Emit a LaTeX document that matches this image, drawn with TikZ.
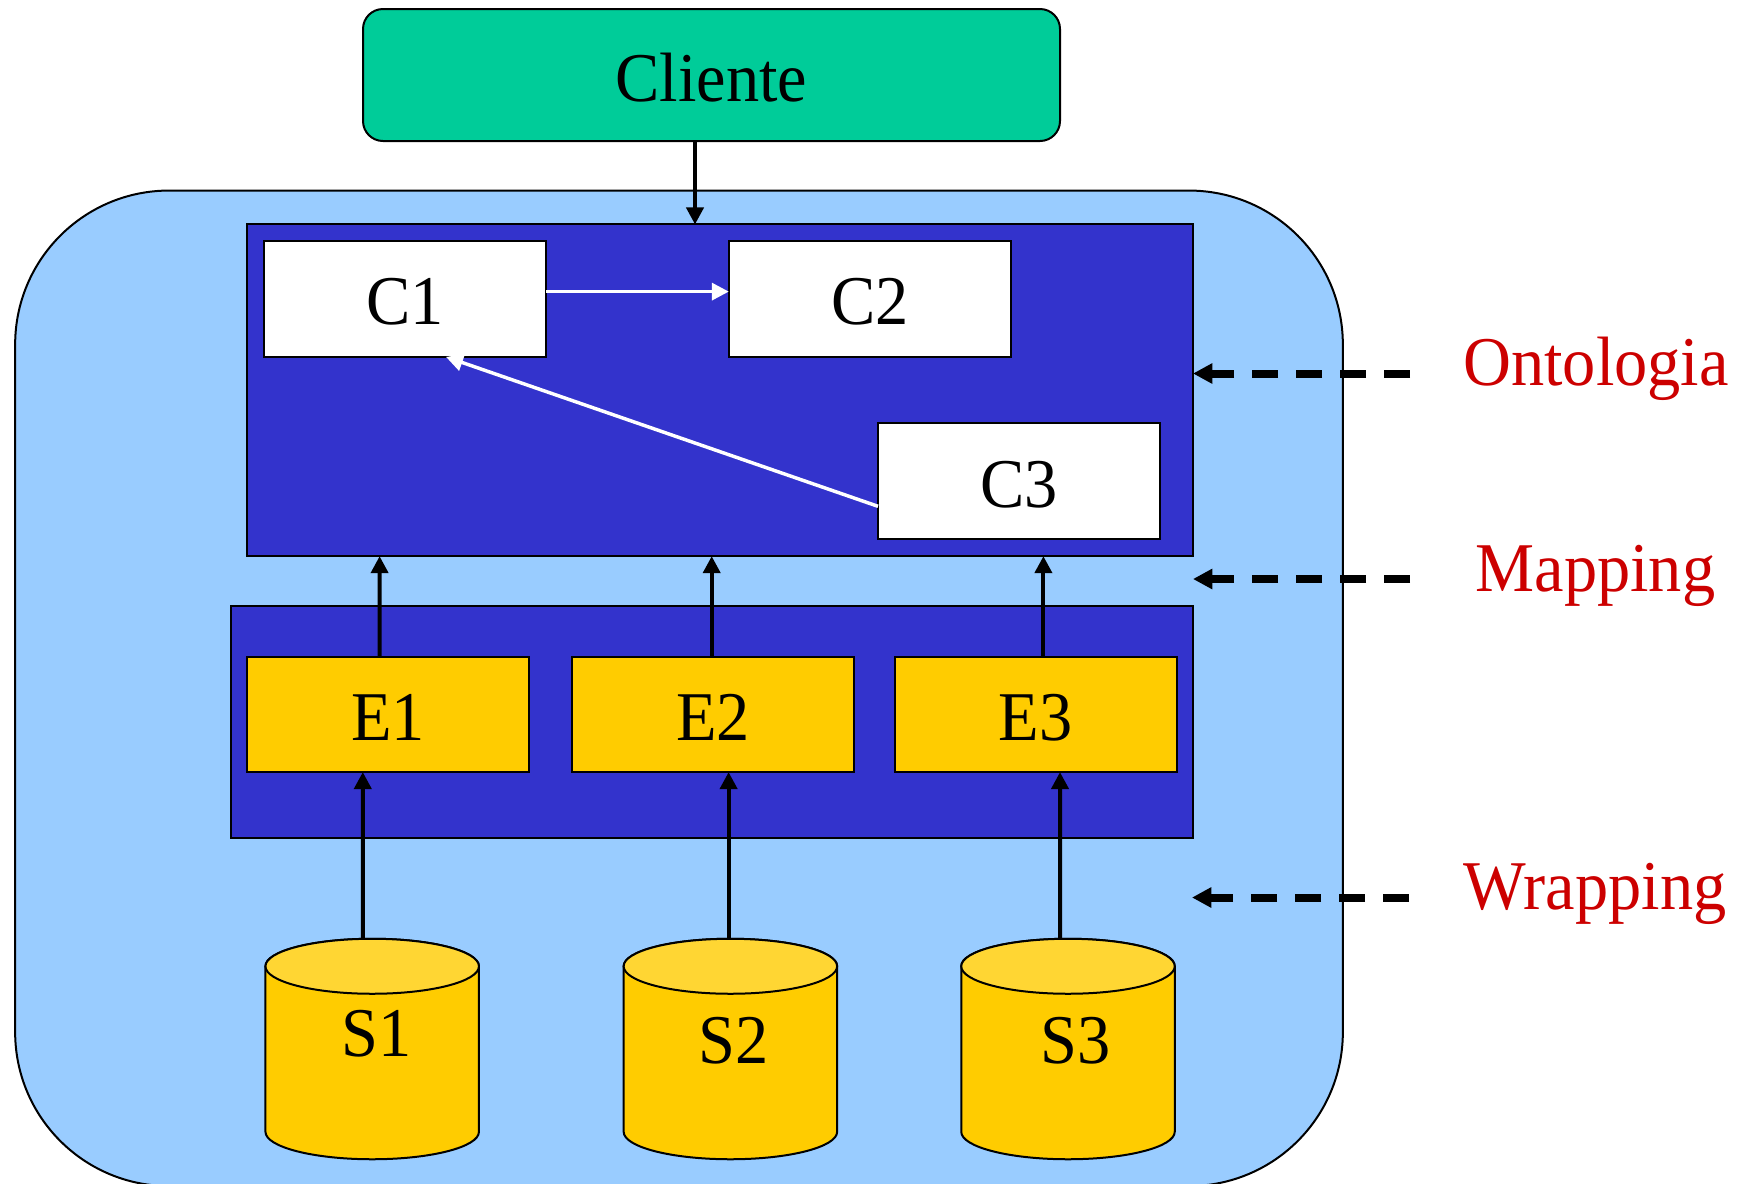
\documentclass[tikz,border=0pt]{standalone}
\usepackage{fontspec}
\usetikzlibrary{arrows.meta}
\newfontfamily\figfont[FakeStretch=0.95]{Liberation Serif}
\def\px{0.75pt}
\definecolor{clientgreen}{HTML}{00CC99}
\definecolor{skyblue}{HTML}{99CCFF}
\definecolor{deepblue}{HTML}{3333CC}
\definecolor{gold}{HTML}{FFCC00}
\definecolor{goldtop}{HTML}{FFD633}
\definecolor{labelred}{HTML}{CC0000}
\tikzset{
  x=0.75pt,y=-0.75pt,
  every node/.style={font=\figfont\fontsize{52.4pt}{52.4pt}\selectfont,inner sep=0pt,outer sep=0pt},
  panel/.style={draw=black,line width=1.5pt,rectangle},
  conceptbox/.style={panel,fill=white,minimum width=282*\px,minimum height=116*\px,text height=39pt,text depth=0pt},
  extractbox/.style={panel,fill=gold,minimum width=282*\px,minimum height=115.5*\px,text height=39pt,text depth=0pt},
  storebase/.style={rectangle,minimum width=213.5*\px,minimum height=220.5*\px},
  storeline/.style={draw=black,line width=1.5pt},
  storetext/.style={anchor=base},
  sidetext/.style={anchor=base,text=labelred},
  blackarrow/.style={draw=black,line width=3pt,-{Triangle[length=12.75pt,width=12.75pt]}},
  whitearrow/.style={draw=white,line width=2.6pt,-{Triangle[length=12.75pt,width=12.75pt]}},
  layerarrow/.style={draw=black,line width=6pt,dash pattern=on 19.5pt off 13.5pt,-{Triangle[length=14.5pt,width=14.5pt]}},
}
\newcommand\storeshape[1]{%
  \draw[storeline,fill=gold] ([yshift=-27.5*\px]#1.north west) -- ([yshift=27.5*\px]#1.south west)
    arc[start angle=180,end angle=360,x radius=106.75*\px,y radius=27.5*\px]
    -- ([yshift=-27.5*\px]#1.north east)
    arc[start angle=0,end angle=180,x radius=106.75*\px,y radius=27.5*\px] -- cycle;
  \draw[storeline,fill=goldtop] ([yshift=-27.5*\px]#1.north) ellipse[x radius=106.75*\px,y radius=27.5*\px];
}
\begin{document}
\begin{tikzpicture}
\useasboundingbox (0,0) rectangle (1742,1183);
\node[panel,rounded corners=115.5pt,fill=skyblue,minimum width=1327.7*\px,minimum height=995.5*\px] (outer) at (679,688.3) {};
\node[panel,rounded corners=15pt,fill=clientgreen,minimum width=697*\px,minimum height=132*\px,text height=39pt,text depth=0pt] (cliente) at (711.5,75) {Cliente};
\node[panel,fill=deepblue,minimum width=946*\px,minimum height=331.7*\px] (ontology) at (720,390.3) {};
\node[panel,fill=deepblue,minimum width=962.4*\px,minimum height=232*\px] (wrappers) at (711.8,722.3) {};
\node[conceptbox] (C1) at (405,298.9) {C1};
\node[conceptbox] (C2) at (869.8,298.9) {C2};
\node[conceptbox] (C3) at (1019,481.3) {C3};
\node[extractbox] (E1) at (388.3,714.3) {E1};
\node[extractbox] (E2) at (713,714.3) {E2};
\node[extractbox] (E3) at (1035.6,714.3) {E3};
\node[storebase] (S1) at (372.2,1049) {};
\node[storebase] (S2) at (730.4,1049) {};
\node[storebase] (S3) at (1068,1049) {};
\storeshape{S1}
\storeshape{S2}
\storeshape{S3}
\node[storetext] (S1text) at (377,1056.5) {S1};
\node[storetext] (S2text) at (733.7,1063) {S2};
\node[storetext] (S3text) at (1075.5,1063) {S3};
\node[sidetext] (ontologia) at (1596,385.5) {Ontologia};
\node[sidetext] (mapping) at (1595.4,591.5) {Mapping};
\node[sidetext] (wrapping) at (1595,909.5) {Wrapping};
\coordinate (ontTail) at (1410,373.5);
\coordinate (mapTail) at (1410,579);
\coordinate (wrapTail) at (1409,897.5);
\coordinate (wrapTip) at (1192,897.5);
% connectors
\draw[blackarrow] ([xshift=-16.5*\px]cliente.south) -- ([xshift=-25*\px]ontology.north);
\draw[whitearrow] ([yshift=7.3*\px]C1.east) -- ([yshift=7.3*\px]C2.west);
\draw[whitearrow] ([yshift=-25*\px]C3.west) -- ([xshift=41*\px]C1.south);
\draw[blackarrow] ([xshift=-8.7*\px]E1.north) -- ([xshift=-340.4*\px]ontology.south);
\draw[blackarrow] ([xshift=-1.3*\px]E2.north) -- ([xshift=-8.3*\px]ontology.south);
\draw[blackarrow] ([xshift=7.8*\px]E3.north) -- ([xshift=323.4*\px]ontology.south);
\draw[blackarrow] ([xshift=-9.4*\px]S1.north) -- ([xshift=-25.5*\px]E1.south);
\draw[blackarrow] ([xshift=-1.8*\px]S2.north) -- ([xshift=15.6*\px]E2.south);
\draw[blackarrow] ([xshift=-8*\px]S3.north) -- ([xshift=24.4*\px]E3.south);
\draw[layerarrow] (ontTail) -- (ontTail -| ontology.east);
\draw[layerarrow] (mapTail) -- (mapTail -| ontology.east);
\draw[layerarrow] (wrapTail) -- (wrapTip);
\end{tikzpicture}
\end{document}
